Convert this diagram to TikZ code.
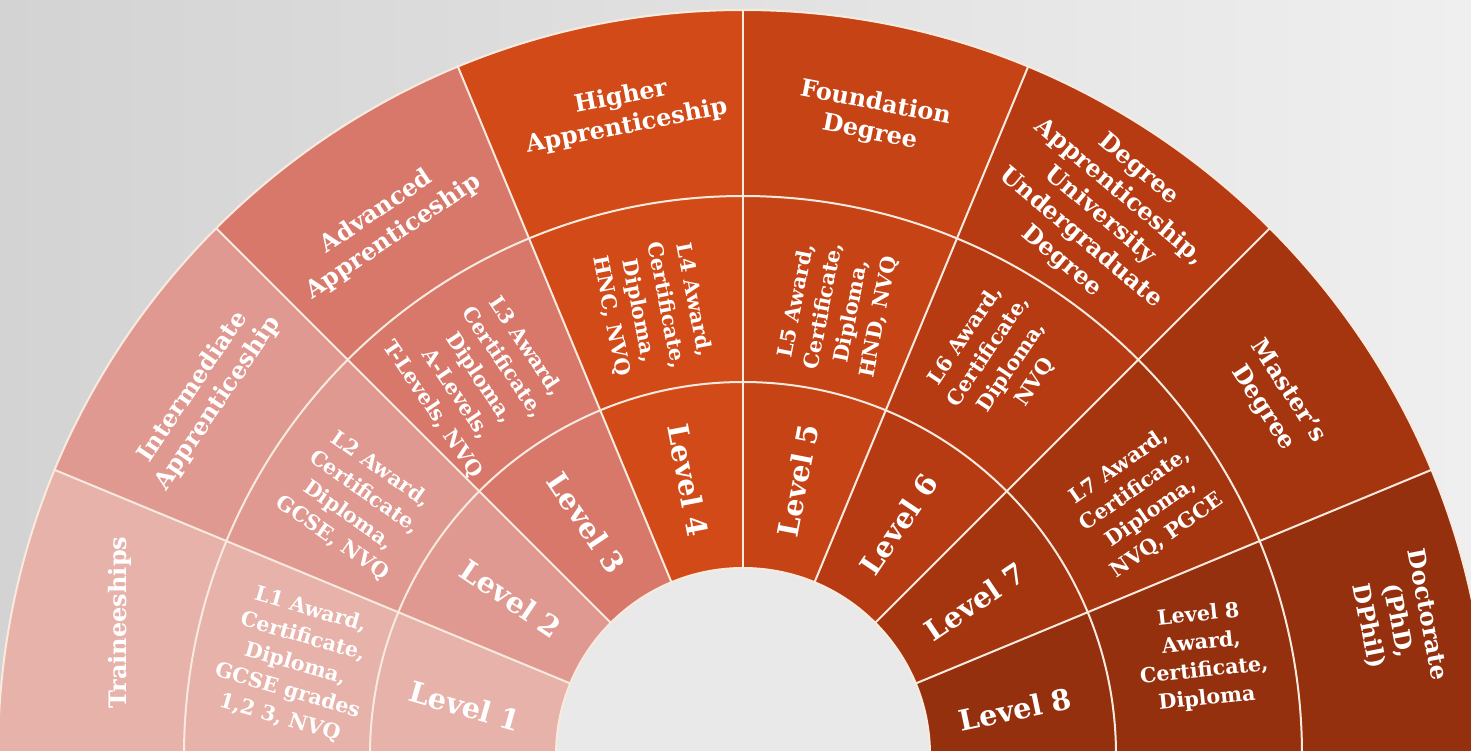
\documentclass[tikz,border=0pt]{standalone}
\usepackage{fontspec}
\setmainfont{DejaVu Serif}

\definecolor{bgLeft}{HTML}{D3D3D3}
\definecolor{bgRight}{HTML}{EFEFEF}
\definecolor{hubGray}{HTML}{E9E9E9}
\definecolor{sepCream}{HTML}{F8EADF}
\definecolor{lvOne}{HTML}{E6B2AA}
\definecolor{lvTwo}{HTML}{DF9990}
\definecolor{lvThree}{HTML}{D8786A}
\definecolor{lvFour}{HTML}{D24A18}
\definecolor{lvFive}{HTML}{C54314}
\definecolor{lvSix}{HTML}{B63B12}
\definecolor{lvSeven}{HTML}{A5350F}
\definecolor{lvEight}{HTML}{94300E}

\tikzset{every picture/.style={line width=0.75pt}}
\tikzset{
  sepline/.style={draw=sepCream, line width=1.5pt},
  lvlabel/.style={text=white, font=\bfseries\fontsize{21.5}{25}\selectfont, inner sep=0.75pt},
  awdlabel/.style={text=white, font=\bfseries\fontsize{15.5}{21}\selectfont, align=center, inner sep=0.75pt},
  rtlabel/.style={text=white, font=\bfseries\fontsize{18}{22.5}\selectfont, align=center, inner sep=0.75pt},
}

\begin{document}
\begin{tikzpicture}[x=0.75pt,y=0.75pt,yscale=-1,xscale=1]
\useasboundingbox (0,0) rectangle (1471,750);
\clip (0,0) rectangle (1471,750);

%Shape: Background [id:bg]
\shade[left color=bgLeft,right color=bgRight] (0,0) rectangle (1471,750);

\begin{scope}[shift={(743,755)}]
%Shape: Sectors, level 1 to 8
\fill[lvOne] (-180:187) arc[start angle=-180,end angle=-157.5,radius=187] -- (-157.5:745) arc[start angle=-157.5,end angle=-180,radius=745] -- cycle;
\fill[lvTwo] (-157.5:187) arc[start angle=-157.5,end angle=-135,radius=187] -- (-135:745) arc[start angle=-135,end angle=-157.5,radius=745] -- cycle;
\fill[lvThree] (-135:187) arc[start angle=-135,end angle=-112.5,radius=187] -- (-112.5:745) arc[start angle=-112.5,end angle=-135,radius=745] -- cycle;
\fill[lvFour] (-112.5:187) arc[start angle=-112.5,end angle=-90,radius=187] -- (-90:745) arc[start angle=-90,end angle=-112.5,radius=745] -- cycle;
\fill[lvFive] (-90:187) arc[start angle=-90,end angle=-67.5,radius=187] -- (-67.5:745) arc[start angle=-67.5,end angle=-90,radius=745] -- cycle;
\fill[lvSix] (-67.5:187) arc[start angle=-67.5,end angle=-45,radius=187] -- (-45:745) arc[start angle=-45,end angle=-67.5,radius=745] -- cycle;
\fill[lvSeven] (-45:187) arc[start angle=-45,end angle=-22.5,radius=187] -- (-22.5:745) arc[start angle=-22.5,end angle=-45,radius=745] -- cycle;
\fill[lvEight] (-22.5:187) arc[start angle=-22.5,end angle=0,radius=187] -- (0:745) arc[start angle=0,end angle=-22.5,radius=745] -- cycle;

%Shape: Hub [id:hub]
\fill[hubGray] (0,0) circle (187);

%Curve Lines: ring borders
\draw[sepline] (-180:187) arc[start angle=-180,end angle=0,radius=187];
\draw[sepline] (-180:373) arc[start angle=-180,end angle=0,radius=373];
\draw[sepline] (-180:559) arc[start angle=-180,end angle=0,radius=559];
\draw[sepline] (-180:745) arc[start angle=-180,end angle=0,radius=745];

%Straight Lines: sector borders
\draw[sepline] (-157.5:187) -- (-157.5:745);
\draw[sepline] (-135:187) -- (-135:745);
\draw[sepline] (-112.5:187) -- (-112.5:745);
\draw[sepline] (-90:187) -- (-90:745);
\draw[sepline] (-67.5:187) -- (-67.5:745);
\draw[sepline] (-45:187) -- (-45:745);
\draw[sepline] (-22.5:187) -- (-22.5:745);

% Text Node: levels
\draw (-170:282) node [lvlabel,rotate=-16] (lv1) {Level 1};
\draw (-146:280) node [lvlabel,rotate=-34] (lv2) {Level 2};
\draw (-124:280) node [lvlabel,rotate=-56] (lv3) {Level 3};
\draw (-101.25:280) node [lvlabel,rotate=-79] (lv4) {Level 4};
\draw (-78.75:280) node [lvlabel,rotate=79] (lv5) {Level 5};
\draw (-56:278) node [lvlabel,rotate=56] (lv6) {Level 6};
\draw (-33.5:278) node [lvlabel,rotate=34] (lv7) {Level 7};
\draw (-9.5:276) node [lvlabel,rotate=12] (lv8) {Level 8};

% Text Node: awards
\draw (-168.5:457) node [awdlabel,rotate=-16] (awd1) {L1 Award,\\Certificate,\\Diploma,\\GCSE grades\\1,2 3, NVQ};
\draw (-147:461) node [awdlabel,rotate=-35] (awd2) {L2 Award,\\Certificate,\\Diploma,\\GCSE, NVQ};
\draw (-125:460) node [awdlabel,rotate=-56] (awd3) {L3 Award,\\Certificate,\\Diploma,\\A-Levels,\\T-Levels, NVQ};
\draw (-101.5:456) node [awdlabel,rotate=-79] (awd4) {L4 Award,\\Certificate,\\Diploma,\\HNC, NVQ};
\draw (-78:456) node [awdlabel,rotate=79] (awd5) {L5 Award,\\Certificate,\\Diploma,\\HND, NVQ};
\draw (-57:472) node [awdlabel,rotate=56] (awd6) {L6 Award,\\Certificate,\\Diploma,\\NVQ};
\draw (-32.4:474) node [awdlabel,rotate=35] (awd7) {L7 Award,\\Certificate,\\Diploma,\\NVQ, PGCE};
\draw (-12:470) node [awdlabel,rotate=6] (awd8) {Level 8\\Award,\\Certificate,\\Diploma};

% Text Node: routes
\draw (-168:637) node [rtlabel,rotate=90] (rt1) {Traineeships};
\draw (-146.2:647) node [rtlabel,rotate=56] (rt2) {Intermediate\\Apprenticeship};
\draw (-124:640) node [rtlabel,rotate=34] (rt3) {Advanced\\Apprenticeship};
\draw (-100.5:654) node [rtlabel,rotate=11] (rt4) {Higher\\Apprenticeship};
\draw (-78.5:650) node [rtlabel,rotate=-11] (rt5) {Foundation\\Degree};
\draw (-56.5:647) node [rtlabel,rotate=-40] (rt6) {Degree\\Apprenticeship,\\University\\Undergraduate\\Degree};
\draw (-33.7:640) node [rtlabel,rotate=-57] (rt7) {Master's\\Degree};
\draw (-11.6:668) node [rtlabel,rotate=-79] (rt8) {Doctorate\\(PhD,\\DPhil)};
\end{scope}

\end{tikzpicture}
\end{document}
